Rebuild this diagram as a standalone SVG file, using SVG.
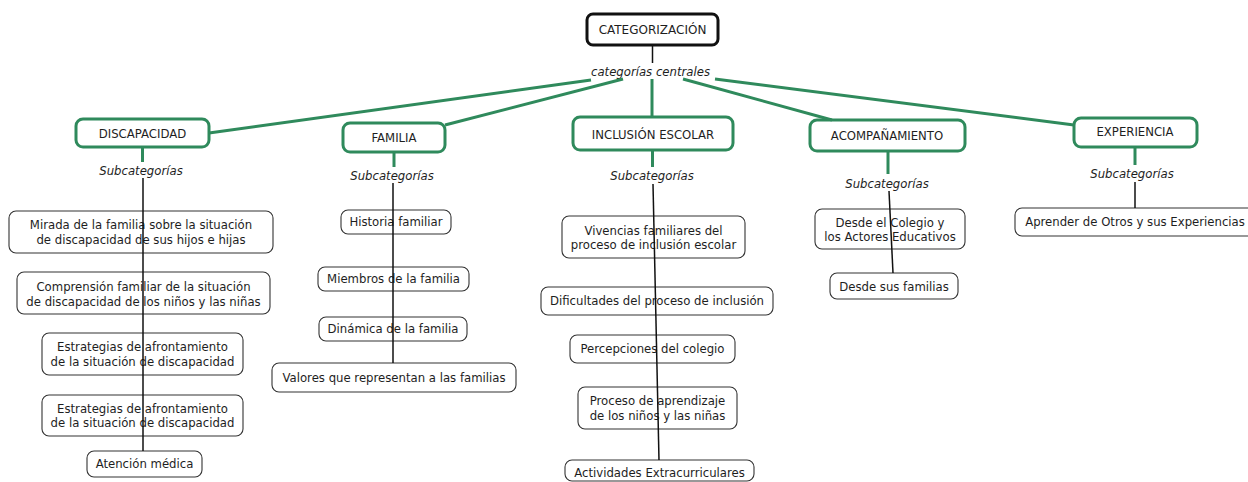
<svg xmlns="http://www.w3.org/2000/svg" width="1248" height="482" viewBox="0 0 1248 482">
<style>
text{font-family:"DejaVu Sans","Liberation Sans",sans-serif;font-size:11.7px;fill:#1e1e1e;text-anchor:middle}
.lbl{font-style:italic}
.top{fill:#fff;stroke:#111;stroke-width:3}
.cat{fill:#fff;stroke:#2f8a5c;stroke-width:3}
.sub{fill:#fff;stroke:#333;stroke-width:1.1}
.g{stroke:#2f8a5c;stroke-width:3;fill:none}
.k{stroke:#111;stroke-width:1.5;fill:none}
</style>
<rect width="1248" height="482" fill="#fff"/>

<g id="categorizacion"><rect class="top" x="587" y="14" width="131" height="31" rx="6"/><text x="652.5" y="34" style="font-size:12px">CATEGORIZACIÓN</text></g>

<g id="discapacidad"><rect class="cat" x="76" y="119" width="133" height="28" rx="7"/><text x="142.5" y="137.5">DISCAPACIDAD</text></g>
<g id="familia"><rect class="cat" x="343" y="123" width="102" height="29" rx="7"/><text x="394" y="142">FAMILIA</text></g>
<g id="inclusion"><rect class="cat" x="573" y="117" width="160" height="33" rx="7"/><text x="653" y="139">INCLUSIÓN ESCOLAR</text></g>
<g id="acompanamiento"><rect class="cat" x="810" y="120" width="155" height="31" rx="7"/><text x="887" y="140">ACOMPAÑAMIENTO</text></g>
<g id="experiencia"><rect class="cat" x="1074" y="118" width="123" height="29" rx="7"/><text x="1135" y="136">EXPERIENCIA</text></g>

<g id="d1"><rect class="sub" x="9" y="211" width="264" height="42" rx="7"/><text x="141" y="228.5">Mirada de la familia sobre la situación</text><text x="141" y="244">de discapacidad de sus hijos e hijas</text></g>
<g id="d2"><rect class="sub" x="17" y="272" width="253" height="42" rx="7"/><text x="143.5" y="290.5">Comprensión familiar de la situación</text><text x="143.5" y="306">de discapacidad de los niños y las niñas</text></g>
<g id="d3"><rect class="sub" x="42" y="333" width="201" height="42" rx="7"/><text x="142.5" y="351">Estrategias de afrontamiento</text><text x="142.5" y="366">de la situación de discapacidad</text></g>
<g id="d4"><rect class="sub" x="42" y="395" width="201" height="41" rx="7"/><text x="142.5" y="412.5">Estrategias de afrontamiento</text><text x="142.5" y="427">de la situación de discapacidad</text></g>
<g id="d5"><rect class="sub" x="87" y="451" width="115" height="26" rx="7"/><text x="144.5" y="468">Atención médica</text></g>

<g id="f1"><rect class="sub" x="341" y="210" width="110" height="24" rx="7"/><text x="396" y="226">Historia familiar</text></g>
<g id="f2"><rect class="sub" x="318" y="267" width="151" height="24" rx="7"/><text x="393.5" y="283">Miembros de la familia</text></g>
<g id="f3"><rect class="sub" x="319" y="317" width="148" height="24" rx="7"/><text x="393" y="333">Dinámica de la familia</text></g>
<g id="f4"><rect class="sub" x="272" y="363" width="244" height="29" rx="7"/><text x="394" y="381.5">Valores que representan a las familias</text></g>

<g id="i1"><rect class="sub" x="562" y="216" width="183" height="42" rx="7"/><text x="653.5" y="234.5">Vivencias familiares del</text><text x="653.5" y="248.5">proceso de inclusión escolar</text></g>
<g id="i2"><rect class="sub" x="541" y="287" width="232" height="28" rx="7"/><text x="657" y="305">Dificultades del proceso de inclusión</text></g>
<g id="i3"><rect class="sub" x="570" y="335" width="165" height="28" rx="7"/><text x="652.5" y="353">Percepciones del colegio</text></g>
<g id="i4"><rect class="sub" x="578" y="387" width="159" height="42" rx="7"/><text x="657.5" y="405">Proceso de aprendizaje</text><text x="657.5" y="420">de los niños y las niñas</text></g>
<g id="i5"><rect class="sub" x="565" y="460" width="189" height="21" rx="7"/><text x="659.5" y="477">Actividades Extracurriculares</text></g>

<g id="a1"><rect class="sub" x="815" y="209" width="150" height="40" rx="7"/><text x="890" y="226.5">Desde el Colegio y</text><text x="890" y="241">los Actores Educativos</text></g>
<g id="a2"><rect class="sub" x="830" y="273" width="128" height="26" rx="7"/><text x="894" y="291">Desde sus familias</text></g>

<g id="e1"><rect class="sub" x="1015" y="208" width="240" height="28" rx="7"/><text x="1135" y="226">Aprender de Otros y sus Experiencias</text></g>

<g id="connectors">
<line class="k" x1="652.5" y1="45" x2="652.5" y2="63"/>
<text class="lbl" x="650.5" y="76">categorías centrales</text>
<line class="g" x1="591" y1="80" x2="209" y2="133"/>
<line class="g" x1="623" y1="79" x2="445" y2="125"/>
<line class="g" x1="652" y1="79" x2="652" y2="117"/>
<line class="g" x1="683" y1="79" x2="832" y2="120"/>
<line class="g" x1="715" y1="79" x2="1074" y2="125"/>

<line class="g" x1="142.5" y1="147" x2="142.5" y2="162"/>
<text class="lbl" x="141" y="175">Subcategorías</text>
<line class="k" x1="143" y1="178" x2="143" y2="451"/>

<line class="g" x1="394" y1="152" x2="394" y2="167"/>
<text class="lbl" x="392" y="180">Subcategorías</text>
<line class="k" x1="393" y1="183" x2="393" y2="363"/>

<line class="g" x1="652.5" y1="150" x2="652.5" y2="167"/>
<text class="lbl" x="652" y="180">Subcategorías</text>
<line class="k" x1="653" y1="184" x2="659" y2="460"/>

<line class="g" x1="888" y1="151" x2="888" y2="174"/>
<text class="lbl" x="887" y="187.5">Subcategorías</text>
<line class="k" x1="889" y1="191" x2="893" y2="273"/>

<line class="g" x1="1135" y1="147" x2="1135" y2="165"/>
<text class="lbl" x="1132" y="178">Subcategorías</text>
<line class="k" x1="1135" y1="182" x2="1135" y2="208"/>
</g>
</svg>
